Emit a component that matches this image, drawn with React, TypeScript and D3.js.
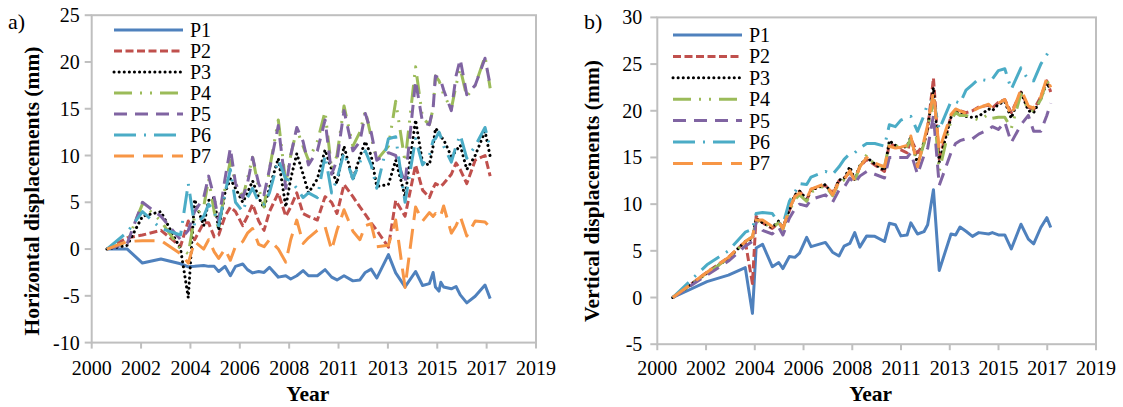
import React from 'react';
import * as d3 from 'd3';

// ---- data ----
const seriesNames = ['P1', 'P2', 'P3', 'P4', 'P5', 'P6', 'P7'];
const seriesColors = ['#4f81bd', '#c0504d', '#000000', '#9bbb59', '#8064a2', '#4bacc6', '#f79646'];
const xTickLabels = ['2000', '2002', '2004', '2006', '2008', '2011', '2013', '2015', '2017', '2019'];

// a) horizontal displacements
const hYears = [2000.65, 2001.52, 2002.17, 2002.96, 2003.8, 2004.13, 2004.4, 2004.79, 2005.0, 2005.24,
  2005.43, 2005.7, 2005.93, 2006.15, 2006.46, 2006.66, 2006.88, 2007.14, 2007.37, 2007.6,
  2007.98, 2008.3, 2008.51, 2008.77, 2009.04, 2009.27, 2009.65, 2009.98, 2010.26, 2010.49,
  2010.79, 2011.17, 2011.47, 2011.7, 2011.95, 2012.19, 2012.69, 2013.0, 2013.4, 2013.85,
  2014.15, 2014.44, 2014.6, 2014.7, 2014.85, 2014.93, 2015.05, 2015.38, 2015.58, 2015.76,
  2016.04, 2016.4, 2016.82, 2017.04];
const hP1 = [0, 0, -1.5, -1.07, -1.57, -1.9, -1.85, -1.75, -1.85, -1.85, -2.4, -1.85, -2.85, -1.85, -1.6, -2.2, -2.55, -2.4, -2.5, -1.95,
  -3.0, -2.85, -3.2, -2.85, -2.3, -2.85, -2.85, -2.2, -3.0, -3.3, -2.85, -3.4, -3.3, -2.5, -2.15, -3.1, -0.6, -2.55, -4.05, -2.4,
  -3.9, -3.7, -2.5, -4.05, -4.5, -3.55, -4.05, -4.25, -4.0, -4.9, -5.75, -5.05, -3.85, -5.3];
const hP2 = [0, 1.2, 1.5, 2.0, 0.3, 3.0, 1.0, 2.8, 2.8, 1.3, 1.5, 3.5, 4.5, 4.0, 2.5, 3.5, 4.8, 3.0, 2.0, 4.0,
  6.0, 3.5, 4.5, 6.0, 3.8, 3.5, 3.1, 5.6, 5.0, 3.8, 6.9, 5.6, 4.5, 3.7, 2.8, 2.0, 0.2, 5.2, 3.5, 9.0,
  6.3, 5.5, 6.5, 7.0, 6.8, 6.7, 7.0, 8.0, 9.2, 8.5, 7.0, 9.5, 10.0, 7.8];
const hP3 = [0, 0.4, 3.5, 4.0, 0.0, -5.2, 5.3, 2.5, 5.2, 5.5, 2.0, 6.0, 7.5, 6.5, 5.0, 6.0, 7.3, 5.5, 4.4, 6.5,
  9.7, 4.5, 7.5, 10.2, 8.0, 6.0, 7.5, 10.6, 8.5, 7.0, 11.0, 7.4, 9.9, 11.5, 10.0, 6.7, 6.9, 9.5, 5.6, 13.8,
  9.2, 9.0, 11.0, 12.9, 12.5, 12.0, 11.7, 9.9, 10.5, 11.1, 8.5, 10.0, 12.6, 9.9];
const hP4 = [0, 0.8, 4.8, 3.0, 0.0, -0.5, 3.5, 4.5, 7.5, 4.0, 2.0, 6.5, 9.5, 7.0, 5.5, 7.5, 9.8, 6.5, 4.5, 8.5,
  13.8, 7.0, 10.0, 12.8, 11.0, 9.5, 11.5, 14.7, 8.5, 10.0, 15.3, 11.0, 12.5, 14.8, 12.0, 9.5, 11.0, 15.8, 9.3, 19.5,
  14.0, 13.3, 15.0, 18.5, 18.0, 17.5, 16.5, 15.0, 17.5, 19.3, 16.3, 17.5, 20.6, 17.2];
const hP5 = [0, 0.6, 5.0, 3.5, 1.0, 2.0, 4.0, 5.5, 7.8, 5.5, 3.0, 7.5, 10.8, 7.0, 5.5, 7.0, 9.8, 7.0, 5.8, 8.5,
  13.2, 6.5, 10.0, 13.0, 11.5, 9.0, 10.5, 13.8, 8.0, 9.5, 14.8, 10.5, 11.5, 14.5, 12.5, 9.5, 10.3, 10.0, 7.0, 18.0,
  13.5, 13.3, 15.0, 18.5, 18.3, 18.0, 17.0, 14.8, 18.5, 20.3, 16.5, 17.5, 20.4, 17.5];
const hP6 = [0, 1.8, 4.0, 2.2, 1.5, 7.0, 2.5, 3.5, 4.8, 4.0, 2.5, 6.0, 8.5, 5.0, 4.0, 5.5, 6.5, 5.0, 4.8, 6.0,
  9.5, 7.5, 7.3, 6.5, 5.5, 6.0, 5.5, 10.0, 6.0, 7.5, 10.3, 7.5, 9.3, 10.5, 9.0, 6.5, 11.8, 12.0, 5.0, 11.8,
  9.0, 10.0, 11.6, 11.8, 12.5, 12.0, 11.0, 9.3, 11.0, 12.2, 9.7, 11.0, 13.0, 10.8];
const hP7 = [0, 0.8, 0.9, 0.9, -0.5, -1.5, 0.8, 0.0, 1.0, -0.3, -1.0, 0.0, -1.2, 0.3, 0.8, 1.7, 2.2, 0.5, 0.25, 1.0,
  0.0, -1.4, 1.0, 3.1, 0.6, 1.2, 2.0, 2.4, -0.1, 2.0, 4.2, 1.9, 1.0, 2.5, 2.7, 0.25, 0.4, 3.1, -4.1, 4.5,
  3.0, 3.9, 3.5, 3.8, 3.4, 3.6, 4.6, 1.7, 2.5, 3.5, 1.4, 3.0, 2.9, 2.3];

// b) vertical displacements
const vYears = [2000.67, 2002.15, 2003.08, 2003.81, 2004.12, 2004.28, 2004.56, 2004.98, 2005.26, 2005.44,
  2005.72, 2005.96, 2006.16, 2006.47, 2006.66, 2007.28, 2007.59, 2007.87, 2008.09, 2008.34,
  2008.55, 2008.77, 2009.07, 2009.42, 2009.84, 2010.05, 2010.31, 2010.55, 2010.82, 2010.98,
  2011.27, 2011.55, 2011.71, 2011.96, 2012.21, 2012.72, 2012.92, 2013.11, 2013.37, 2013.65,
  2013.92, 2014.35, 2014.51, 2014.77, 2015.05, 2015.33, 2015.75, 2016.07, 2016.3, 2016.61,
  2016.87, 2017.04];
const vP1 = [0, 1.7, 2.4, 3.2, -1.7, 5.3, 5.7, 3.3, 3.75, 3.1, 4.4, 4.3, 4.75, 6.45, 5.45, 5.9, 4.85, 4.45, 5.5, 5.8,
  6.95, 5.4, 6.6, 6.55, 6.0, 7.95, 7.8, 6.6, 6.7, 8.0, 6.8, 7.05, 7.8, 11.55, 2.9, 6.8, 6.7, 7.55, 7.1, 6.55,
  6.95, 6.8, 6.95, 6.7, 6.7, 5.2, 7.85, 6.25, 5.75, 7.5, 8.55, 7.5];
const vP2 = [0, 2.7, 4.3, 6.0, 1.5, 8.7, 8.0, 7.4, 8.0, 7.5, 9.3, 10.9, 11.4, 10.4, 11.6, 12.0, 11.2, 12.5, 12.8, 13.4,
  12.7, 14.0, 14.8, 14.2, 13.5, 16.5, 16.2, 15.8, 15.5, 17.0, 15.5, 16.5, 18.0, 23.5, 14.8, 19.4, 20.0, 20.0, 19.8, 20.0,
  20.4, 20.6, 20.3, 20.9, 21.2, 19.8, 22.0, 20.4, 20.1, 21.5, 23.2, 22.0];
const vP3 = [0, 2.6, 4.2, 6.0, 6.3, 8.5, 8.0, 7.5, 8.2, 7.4, 9.4, 11.0, 11.4, 10.5, 11.5, 12.1, 11.0, 12.6, 12.7, 14.0,
  12.6, 14.1, 15.0, 14.3, 13.6, 16.8, 16.3, 16.0, 16.2, 17.2, 14.3, 16.6, 18.2, 22.5, 14.5, 19.3, 20.0, 19.7, 19.4, 19.3,
  19.4, 20.2, 20.0, 20.7, 21.0, 19.2, 22.0, 20.0, 19.8, 21.3, 23.0, 22.2];
const vP4 = [0, 2.6, 4.2, 6.0, 6.5, 8.2, 8.1, 7.5, 8.0, 7.3, 9.3, 10.5, 11.0, 10.3, 11.3, 12.0, 10.9, 12.3, 12.6, 13.3,
  12.5, 14.0, 15.3, 14.2, 14.0, 16.5, 16.3, 16.0, 16.2, 17.0, 14.2, 16.5, 18.2, 21.0, 13.5, 19.0, 19.8, 19.5, 19.5, 19.3,
  19.0, 19.6, 19.2, 19.3, 19.3, 18.1, 21.8, 20.1, 20.0, 21.2, 23.2, 22.6];
const vP5 = [0, 2.4, 3.9, 5.5, 6.0, 8.0, 7.2, 6.8, 7.5, 6.7, 8.5, 9.5, 10.0, 9.8, 10.5, 11.0, 10.2, 11.5, 11.8, 12.8,
  12.2, 13.0, 13.5, 13.2, 12.8, 15.0, 15.0, 15.0, 15.0, 15.5, 13.2, 15.2, 16.0, 19.5, 12.0, 15.5, 16.5, 16.8, 17.0, 17.0,
  17.5, 18.0, 18.3, 18.0, 18.8, 16.6, 18.5, 19.5, 17.8, 17.8, 19.5, 20.8];
const vP6 = [0, 3.5, 5.0, 7.0, 7.3, 9.0, 9.1, 9.0, 8.0, 7.8, 10.3, 11.3, 12.2, 12.1, 12.9, 13.5, 13.2, 14.0, 14.8, 15.4,
  15.5, 16.0, 16.5, 16.5, 16.2, 18.5, 18.3, 19.0, 19.3, 19.4, 17.8, 19.5, 20.8, 21.2, 18.0, 21.0, 21.0, 20.8, 22.2, 22.8,
  23.4, 23.2, 23.4, 24.3, 24.5, 22.3, 24.6, 23.3, 23.2, 25.0, 26.0, 26.8];
const vP7 = [0, 2.7, 4.3, 6.0, 6.5, 8.3, 8.3, 7.6, 8.1, 7.4, 9.5, 10.8, 11.2, 10.6, 11.6, 12.2, 11.0, 12.4, 12.6, 13.6,
  12.5, 14.0, 15.0, 14.4, 14.0, 16.2, 16.0, 16.1, 16.3, 17.3, 14.0, 16.8, 18.5, 22.0, 15.8, 19.6, 20.2, 20.0, 19.7, 20.0,
  20.3, 20.7, 20.3, 20.8, 21.2, 19.5, 22.3, 20.5, 20.3, 21.5, 23.5, 22.5];

// ---- styling ----
const FONT = '"Liberation Serif", "Times New Roman", Times, serif';
const GRID = '#bfbfbf';
// Excel-like dash styles for P1..P7
const dashes = ['none', '8,3.5', '0.1,5', '18,8,2,8,2,8', '13,8', '22,8,2,8', '20,9'];

type Panel = {
  label: string;
  labelX: number;
  yTitle: string;
  yTitleX: number;
  tickGap: number;
  years: number[];
  values: number[][];
  left: number;
  right: number;
  top: number;
  bottom: number;
  yMin: number;
  yMax: number;
  legendX: number;
  legendY: number;
  rowGap: number;
};

const panels: Panel[] = [
  {
    label: 'a)', labelX: 8, yTitle: 'Horizontal displacements (mm)', yTitleX: 32, tickGap: 12,
    years: hYears, values: [hP1, hP2, hP3, hP4, hP5, hP6, hP7],
    left: 91.7, right: 536, top: 15.2, bottom: 342.6, yMin: -10, yMax: 25,
    legendX: 114, legendY: 30, rowGap: 21,
  },
  {
    label: 'b)', labelX: 584, yTitle: 'Vertical displacements (mm)', yTitleX: 592, tickGap: 15,
    years: vYears, values: [vP1, vP2, vP3, vP4, vP5, vP6, vP7],
    left: 657.3, right: 1096, top: 17.4, bottom: 344.2, yMin: -5, yMax: 30,
    legendX: 673, legendY: 35, rowGap: 21.4,
  },
];

function ChartPanel({ p }: { p: Panel }) {
  const x = d3.scaleLinear().domain([2000, 2019]).range([p.left, p.right]);
  const y = d3.scaleLinear().domain([p.yMin, p.yMax]).range([p.bottom, p.top]);
  const xTicks = d3.range(10).map(i => 2000 + (i * 19) / 9);
  const yTicks = d3.range(p.yMin, p.yMax + 0.1, 5);
  const line = d3.line<number>()
    .x((_, i) => x(p.years[i]))
    .y(d => y(d));
  const midX = (p.left + p.right) / 2;

  return (
    <g>
      <text x={p.labelX} y={29} fontFamily={FONT} fontSize={22}>{p.label}</text>

      {/* plot frame */}
      <rect x={p.left} y={p.top} width={p.right - p.left} height={p.bottom - p.top}
        fill="none" stroke={GRID} strokeWidth={2} />

      {/* y axis */}
      {yTicks.map(t => (
        <g key={'y' + t}>
          <line x1={p.left - 7} x2={p.left} y1={y(t)} y2={y(t)} stroke={GRID} strokeWidth={2} />
          <text x={p.left - p.tickGap} y={y(t) + 7} textAnchor="end" fontFamily={FONT} fontSize={20}>{t}</text>
        </g>
      ))}

      {/* x axis */}
      {xTicks.map((t, i) => (
        <g key={'x' + i}>
          <line x1={x(t)} x2={x(t)} y1={p.bottom} y2={p.bottom + 6} stroke={GRID} strokeWidth={2} />
          <text x={x(t)} y={375} textAnchor="middle" fontFamily={FONT} fontSize={20}>{xTickLabels[i]}</text>
        </g>
      ))}

      <text x={midX - 6} y={401} textAnchor="middle" fontFamily={FONT} fontSize={21.5} fontWeight="bold">Year</text>
      <text transform={`translate(${p.yTitleX},191) rotate(-90)`} textAnchor="middle"
        dominantBaseline="central" fontFamily={FONT} fontSize={21.5} fontWeight="bold">{p.yTitle}</text>

      {/* series */}
      {p.values.map((vals, s) => (
        <path key={'s' + s} d={line(vals) || ''} fill="none" stroke={seriesColors[s]}
          strokeWidth={3} strokeDasharray={dashes[s]}
          strokeLinecap={s === 2 ? 'round' : 'butt'} strokeLinejoin="round" />
      ))}

      {/* legend */}
      {seriesNames.map((name, s) => {
        const ly = p.legendY + s * p.rowGap;
        return (
          <g key={'l' + s}>
            <line x1={p.legendX} x2={p.legendX + 69} y1={ly} y2={ly} stroke={seriesColors[s]}
              strokeWidth={3} strokeDasharray={dashes[s]} strokeLinecap={s === 2 ? 'round' : 'butt'} />
            <text x={p.legendX + 76} y={ly + 7} fontFamily={FONT} fontSize={20}>{name}</text>
          </g>
        );
      })}
    </g>
  );
}

export default function App() {
  return (
    <svg width={1123} height={407} viewBox="0 0 1123 407"
      style={{ position: 'absolute', left: 0, top: 0, background: '#fff' }}>
      {panels.map(p => <ChartPanel key={p.label} p={p} />)}
    </svg>
  );
}
